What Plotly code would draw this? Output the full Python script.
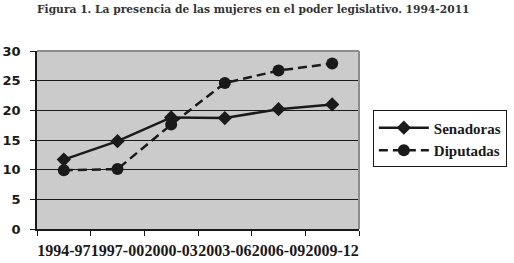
import plotly.graph_objects as go

periods = ["1994-97", "1997-00", "2000-03", "2003-06", "2006-09", "2009-12"]
senadoras = [11.7, 14.8, 18.8, 18.7, 20.2, 21.0]
diputadas = [9.9, 10.1, 17.6, 24.6, 26.7, 27.9]
y_ticks = [0, 5, 10, 15, 20, 25, 30]

INK = "#1a1a1a"

fig = go.Figure()
fig.add_trace(go.Scatter(
    x=periods, y=senadoras, name="Senadoras", mode="lines+markers",
    line=dict(color=INK, width=2.5),
    marker=dict(symbol="diamond", size=11, color=INK),
))
fig.add_trace(go.Scatter(
    x=periods, y=diputadas, name="Diputadas", mode="lines+markers",
    line=dict(color=INK, width=2.5, dash="9px,5px"),
    marker=dict(symbol="circle", size=12, color=INK),
))

fig.update_layout(
    width=514, height=263,
    margin=dict(l=37, r=155, t=51, b=34, autoexpand=False),
    paper_bgcolor="white",
    plot_bgcolor="#cbcbcb",
    showlegend=True,
    legend=dict(
        x=1.043, y=0.506, xanchor="left", yanchor="middle",
        bordercolor=INK, borderwidth=1,
        font=dict(family="Liberation Serif", size=15, color=INK, weight="bold"),
        itemwidth=50, tracegroupgap=0,
    ),
    title=dict(
        text="<b>Figura 1. La presencia de las mujeres en el poder legislativo. 1994-2011</b>",
        x=0.072, xanchor="left", y=0.963, yanchor="middle",
        font=dict(family="DejaVu Serif", size=10.7, color="#333"),
    ),
    xaxis=dict(
        type="category", range=[-0.5, 5.5], automargin=False,
        showline=True, linecolor=INK, linewidth=1.5,
        ticks="outside", tickcolor=INK, ticklen=5, tickson="boundaries",
        ticklabelstandoff=6,
        showgrid=False,
        tickfont=dict(family="Liberation Serif", size=16, color=INK, weight="bold"),
        tickangle=0,
    ),
    yaxis=dict(
        range=[0, 30], tickvals=y_ticks, automargin=False,
        showline=True, linecolor=INK, linewidth=1.5,
        ticks="outside", tickcolor=INK, ticklen=5, ticklabelstandoff=7,
        showgrid=True, gridcolor=INK, gridwidth=1.2,
        zeroline=False,
        tickfont=dict(family="DejaVu Sans", size=13, color=INK, weight="bold"),
    ),
)
# plot-area border on top/right
fig.add_shape(type="line", xref="paper", yref="paper", x0=0, x1=1, y0=1, y1=1,
              line=dict(color="#8c8c8c", width=2))
fig.add_shape(type="line", xref="paper", yref="paper", x0=1, x1=1, y0=0, y1=1,
              line=dict(color="#8c8c8c", width=2))
fig.write_html("out.html", config={"displayModeBar": False},
               post_script="document.body.style.margin='0';")
